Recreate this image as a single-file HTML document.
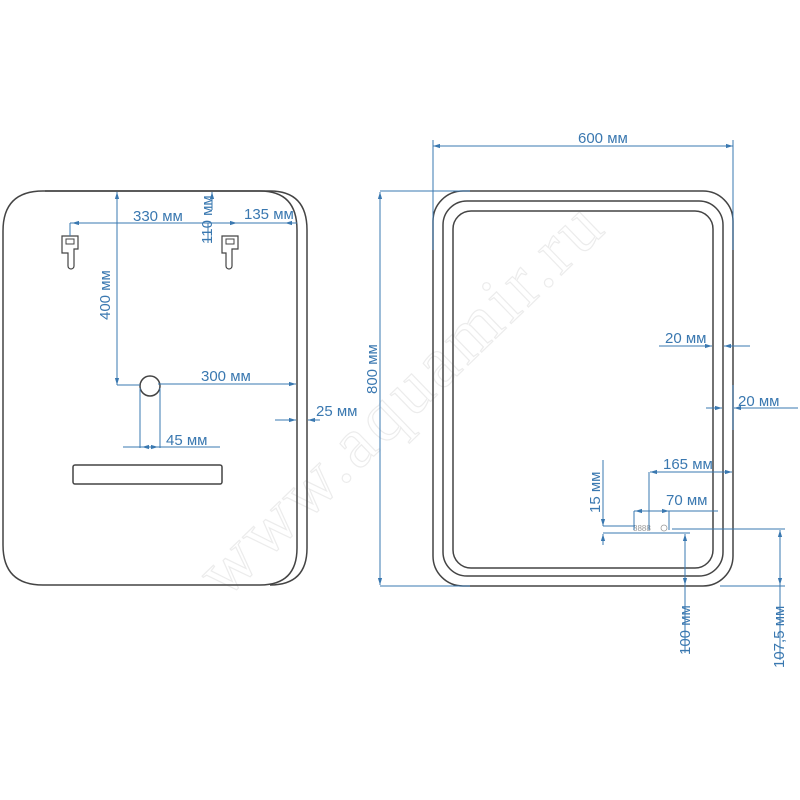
<!DOCTYPE html>
<html><head><meta charset="utf-8"><style>
html,body{margin:0;padding:0;background:#fff;width:800px;height:800px;overflow:hidden}
svg{display:block}
text{font-family:"Liberation Sans",sans-serif;fill:#3a78b0;font-size:15px}
</style></head><body>
<svg width="800" height="800" viewBox="0 0 800 800">
<defs>
<marker id="a" viewBox="0 0 10 10" refX="10" refY="5" markerWidth="7" markerHeight="7" orient="auto-start-reverse"><path d="M0,2 L10,5 L0,8z" fill="#3a78b0"/></marker>
</defs>
<!-- watermark -->
<text x="0" y="0" transform="translate(225,600) rotate(-44)" textLength="530" style="font-size:72px;fill:none;stroke:#ececec;stroke-width:1.2;font-family:'Liberation Serif',serif">www.aquamir.ru</text>

<!-- LEFT PANEL -->
<g fill="none" stroke="#444" stroke-width="1.5">
<path d="M45,191 H270 Q307,191 307,230 V548 Q307,585 270,585"/>
<path d="M43,191 H260 Q297,191 297,230 V548 Q297,585 260,585 H43 Q3,585 3,545 V231 Q3,191 43,191Z"/>
<rect x="73" y="465" width="149" height="19" rx="2"/>
<circle cx="150" cy="386" r="10"/>
<path d="M62,236 h16 v13 h-4 v17 a3,3 0 0 1 -6,0 v-13 h-6z" stroke-width="1.2"/>
<rect x="66" y="239" width="8" height="5" stroke-width="1"/>
<path d="M222,236 h16 v13 h-6 v17 a3,3 0 0 1 -6,0 v-13 h-4z" stroke-width="1.2"/>
<rect x="226" y="239" width="8" height="5" stroke-width="1"/>
</g>
<g stroke="#3a78b0" stroke-width="1" fill="none">
<line x1="70" y1="223" x2="297" y2="223"/>
<line x1="70" y1="223" x2="70" y2="236"/>
<line x1="72" y1="223" x2="116" y2="223" marker-start="url(#a)"/>
<line x1="225" y1="223" x2="237" y2="223" marker-end="url(#a)"/>
<line x1="297" y1="223" x2="285" y2="223" marker-end="url(#a)"/>
<line x1="117" y1="192" x2="117" y2="385" marker-start="url(#a)" marker-end="url(#a)"/>
<line x1="117" y1="385" x2="140" y2="385"/>
<line x1="212" y1="192" x2="212" y2="210" marker-start="url(#a)"/>
<line x1="208" y1="223" x2="208" y2="243"/>
<line x1="158" y1="384" x2="296" y2="384" marker-end="url(#a)"/>
<line x1="140" y1="388" x2="140" y2="448"/>
<line x1="160" y1="388" x2="160" y2="448"/>
<line x1="123" y1="447" x2="220" y2="447"/>
<line x1="142" y1="447" x2="158" y2="447" marker-start="url(#a)" marker-end="url(#a)"/>
<line x1="275" y1="420" x2="296" y2="420" marker-end="url(#a)"/>
<line x1="320" y1="420" x2="308" y2="420" marker-end="url(#a)"/>
</g>
<text x="133" y="221">330 мм</text>
<text x="244" y="219">135 мм</text>
<text transform="translate(212,244) rotate(-90)">110 мм</text>
<text transform="translate(110,320) rotate(-90)">400 мм</text>
<text x="201" y="381">300 мм</text>
<text x="166" y="445">45 мм</text>
<text x="316" y="416">25 мм</text>

<!-- RIGHT PANEL -->
<g fill="none" stroke="#444" stroke-width="1.5">
<rect x="433" y="191" width="300" height="395" rx="30"/>
<rect x="443" y="201" width="280" height="375" rx="24"/>
<rect x="453" y="211" width="260" height="357" rx="18"/>
</g>
<text x="633" y="531" style="font-size:8px;fill:#999">8888</text>
<circle cx="664" cy="528" r="3" fill="none" stroke="#999" stroke-width="0.8"/>
<g stroke="#3a78b0" stroke-width="1" fill="none">
<line x1="433" y1="146" x2="733" y2="146" marker-start="url(#a)" marker-end="url(#a)"/>
<line x1="433" y1="140" x2="433" y2="250"/>
<line x1="733" y1="140" x2="733" y2="250"/>
<line x1="380" y1="191" x2="470" y2="191"/>
<line x1="380" y1="586" x2="470" y2="586"/>
<line x1="380" y1="192" x2="380" y2="585" marker-start="url(#a)" marker-end="url(#a)"/>
<line x1="659" y1="346" x2="712" y2="346" marker-end="url(#a)"/>
<line x1="750" y1="346" x2="724" y2="346" marker-end="url(#a)"/>
<line x1="706" y1="408" x2="722" y2="408" marker-end="url(#a)"/>
<line x1="798" y1="408" x2="734" y2="408" marker-end="url(#a)"/>
<line x1="733" y1="385" x2="733" y2="430"/>
<line x1="650" y1="472" x2="732" y2="472" marker-start="url(#a)" marker-end="url(#a)"/>
<line x1="649" y1="472" x2="649" y2="530"/>
<line x1="634" y1="511" x2="718" y2="511"/>
<line x1="635" y1="511" x2="669" y2="511" marker-start="url(#a)" marker-end="url(#a)"/>
<line x1="634" y1="511" x2="634" y2="530"/>
<line x1="669" y1="511" x2="669" y2="530"/>
<line x1="603" y1="526" x2="635" y2="526"/>
<line x1="603" y1="533" x2="690" y2="533"/>
<line x1="603" y1="460" x2="603" y2="526" marker-end="url(#a)"/>
<line x1="603" y1="545" x2="603" y2="534" marker-end="url(#a)"/>
<line x1="672" y1="529" x2="785" y2="529"/>
<line x1="685" y1="534" x2="685" y2="585" marker-start="url(#a)" marker-end="url(#a)"/>
<line x1="685" y1="585" x2="685" y2="653"/>
<line x1="780" y1="530" x2="780" y2="585" marker-start="url(#a)" marker-end="url(#a)"/>
<line x1="780" y1="585" x2="780" y2="660"/>
<line x1="720" y1="586" x2="785" y2="586"/>
</g>
<text x="578" y="143">600 мм</text>
<text transform="translate(377,394) rotate(-90)">800 мм</text>
<text x="665" y="343">20 мм</text>
<text x="738" y="406">20 мм</text>
<text x="663" y="469">165 мм</text>
<text x="666" y="505">70 мм</text>
<text transform="translate(600,513) rotate(-90)">15 мм</text>
<text transform="translate(690,655) rotate(-90)">100 мм</text>
<text transform="translate(784,668) rotate(-90)">107,5 мм</text>
</svg>
</body></html>
